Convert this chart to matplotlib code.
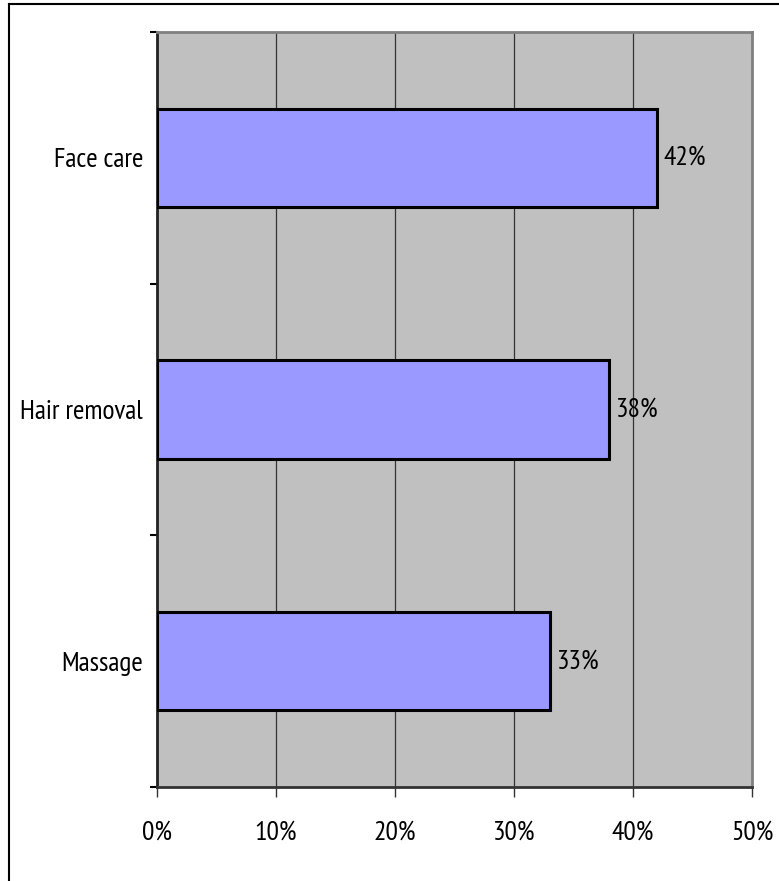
import matplotlib
matplotlib.use('agg')
import matplotlib.pyplot as plt
from matplotlib.lines import Line2D

categories = ['Massage', 'Hair removal', 'Face care']
values = [33, 38, 42]
x_ticks = [0, 10, 20, 30, 40, 50]

plt.rcParams['font.family'] = ['PT Sans Narrow', 'DejaVu Sans']
FS = 20

fig = plt.figure(figsize=(7.79, 8.81), dpi=100)
ax = fig.add_axes([157 / 779, 1 - 787 / 881, 595 / 779, 755 / 881])
ax.set_facecolor('#c0c0c0')

ypos = range(len(categories))
ax.barh(ypos, values, height=0.39, color='#9999ff', edgecolor='black',
        linewidth=2.2, zorder=3)

ax.set_xlim(0, 50)
ax.set_ylim(-0.5, len(categories) - 0.5)
ax.set_xticks(x_ticks)
ax.set_xticklabels(['%d%%' % t for t in x_ticks], fontsize=FS)
# major ticks sit between categories, labels on minor ticks at bar centres
ax.set_yticks([i - 0.5 for i in range(len(categories) + 1)])
ax.set_yticklabels([])
ax.set_yticks(list(ypos), minor=True)
ax.set_yticklabels(categories, minor=True, fontsize=FS)
ax.tick_params(axis='y', which='minor', length=0, pad=10)
ax.tick_params(axis='y', which='major', length=5, width=1.5, color='black')
ax.tick_params(axis='x', length=7, width=1, color='#333333', pad=17)

ax.xaxis.grid(True, color='#333333', linewidth=0.9, zorder=1)
ax.set_axisbelow(True)

for i, v in enumerate(values):
    ax.text(v + 0.6, i, '%d%%' % v, va='center', ha='left', fontsize=FS, zorder=4)

ax.spines['top'].set_color('#808080')
ax.spines['top'].set_linewidth(2)
ax.spines['right'].set_color('#808080')
ax.spines['right'].set_linewidth(2)
ax.spines['left'].set_color('#222222')
ax.spines['left'].set_linewidth(2)
ax.spines['bottom'].set_color('#333333')
ax.spines['bottom'].set_linewidth(2)

# outer chart frame
fig.add_artist(Line2D([9 / 779, 9 / 779], [0, 1 - 4 / 881], color='black',
                      linewidth=1.5, transform=fig.transFigure))
fig.add_artist(Line2D([9 / 779, 1], [1 - 4 / 881, 1 - 4 / 881], color='black',
                      linewidth=1.5, transform=fig.transFigure))

fig.savefig('out.png', dpi=100)
